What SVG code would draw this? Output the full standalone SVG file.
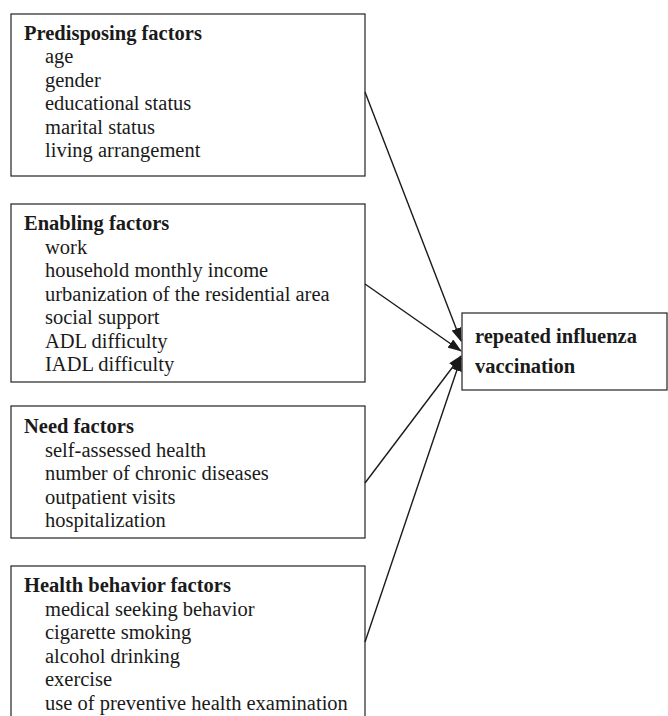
<svg xmlns="http://www.w3.org/2000/svg" width="668" height="716" viewBox="0 0 668 716">
<style>
.box{fill:#fff;stroke:#333;stroke-width:1.3}
text{font-family:"Liberation Serif","Times New Roman",serif;font-size:20.5px;fill:#1a1a1a}
.t{font-weight:bold}
.c{stroke:#1a1a1a;stroke-width:1.4;fill:none;marker-end:url(#ah)}
</style>
<defs>
<marker id="ah" markerWidth="14" markerHeight="10" refX="13" refY="5" orient="auto" markerUnits="userSpaceOnUse">
<path d="M0,0 L14,5 L0,10 Z" fill="#1a1a1a"/>
</marker>
</defs>
<rect width="668" height="716" fill="#fff"/>
<g id="predisposing">
<rect class="box" x="11" y="14" width="354" height="162"/>
<text class="t" x="24" y="40">Predisposing factors</text>
<text x="45" y="63">age</text>
<text x="45" y="86.5">gender</text>
<text x="45" y="110">educational status</text>
<text x="45" y="133.5">marital status</text>
<text x="45" y="157">living arrangement</text>
</g>
<g id="enabling">
<rect class="box" x="11" y="204" width="354" height="178"/>
<text class="t" x="24" y="230">Enabling factors</text>
<text x="45" y="253.5">work</text>
<text x="45" y="277">household monthly income</text>
<text x="45" y="300.5">urbanization of the residential area</text>
<text x="45" y="324">social support</text>
<text x="45" y="347.5">ADL difficulty</text>
<text x="45" y="371">IADL difficulty</text>
</g>
<g id="need">
<rect class="box" x="11" y="406" width="354" height="132"/>
<text class="t" x="24" y="433">Need factors</text>
<text x="45" y="456.5">self-assessed health</text>
<text x="45" y="480">number of chronic diseases</text>
<text x="45" y="503.5">outpatient visits</text>
<text x="45" y="527">hospitalization</text>
</g>
<g id="behavior">
<rect class="box" x="11" y="566" width="354" height="160"/>
<text class="t" x="24" y="592">Health behavior factors</text>
<text x="45" y="615.5">medical seeking behavior</text>
<text x="45" y="639">cigarette smoking</text>
<text x="45" y="662.5">alcohol drinking</text>
<text x="45" y="686">exercise</text>
<text x="45" y="709.5">use of preventive health examination</text>
</g>
<g id="outcome">
<rect class="box" x="462" y="313" width="205" height="77"/>
<text class="t" x="475" y="343">repeated influenza</text>
<text class="t" x="475" y="373">vaccination</text>
</g>
<g id="connectors">
<line class="c" x1="365" y1="92" x2="461" y2="341"/>
<line class="c" x1="365" y1="284" x2="461" y2="351"/>
<line class="c" x1="365" y1="483" x2="461" y2="356"/>
<line class="c" x1="365" y1="642" x2="461" y2="358"/>
</g>
</svg>
